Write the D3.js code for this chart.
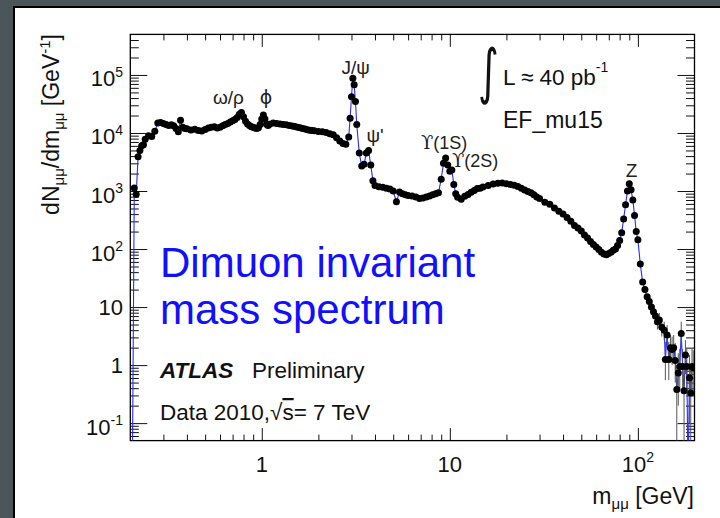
<!DOCTYPE html>
<html>
<head>
<meta charset="utf-8">
<script src="https://cdn.jsdelivr.net/npm/d3@7"></script>
<style>
  html, body { margin: 0; padding: 0; background: #4b565b; }
  svg { display: block; font-family: "Liberation Sans", Arial, sans-serif; }
</style>
</head>
<body>
<div id="chart"></div>
<script>
// Dimuon invariant mass spectrum
const mass = [0.205, 0.21, 0.215, 0.22, 0.225, 0.23, 0.235, 0.24, 0.25, 0.26, 0.27, 0.28, 0.29, 0.30, 0.31, 0.32, 0.33, 0.34, 0.35, 0.36,
  0.37, 0.38, 0.39, 0.40, 0.42, 0.44, 0.46, 0.48, 0.50, 0.52, 0.54, 0.56, 0.58, 0.60, 0.62, 0.64, 0.66, 0.68, 0.70, 0.72,
  0.74, 0.76, 0.78, 0.80, 0.82, 0.84, 0.86, 0.88, 0.90, 0.92, 0.94, 0.96, 0.98, 1.00, 1.02, 1.04, 1.06, 1.08, 1.10, 1.15,
  1.20, 1.25, 1.30, 1.35, 1.40, 1.45, 1.50, 1.55, 1.60, 1.65, 1.70, 1.75, 1.80, 1.85, 1.90, 2.00, 2.10, 2.20, 2.30, 2.40,
  2.50, 2.60, 2.70, 2.80, 2.90, 2.95, 3.00, 3.05, 3.10, 3.15, 3.20, 3.30, 3.40, 3.50, 3.60, 3.70, 3.80, 3.90, 4.0, 4.2,
  4.4, 4.6, 4.8, 5.0, 5.2, 5.4, 5.6, 5.8, 6.0, 6.3, 6.6, 6.9, 7.2, 7.5, 7.8, 8.1, 8.4, 8.7, 9.0, 9.25,
  9.5, 9.75, 10.0, 10.25, 10.5, 10.75, 11.0, 11.5, 12, 12.5, 13, 13.5, 14, 14.5, 15, 16, 17, 18, 19, 20,
  21, 22, 23, 24, 25, 26, 27, 28, 29, 30, 32, 34, 36, 38, 40, 42, 44, 46, 48, 50,
  52, 54, 56, 58, 60, 62, 64, 66, 68, 70, 72, 74, 76, 78, 80, 82, 84, 86, 88, 90,
  92, 94, 96, 98, 100, 103, 106, 109, 112, 115, 118, 121, 124, 127, 130, 134, 138, 140, 143, 146,
  149, 152, 155, 158, 161, 164, 167, 170, 173, 176, 179, 182, 185, 188, 191, 194, 197];

const dNdm = [0.01, 1130, 880, 3900, 5000, 6000, 6300, 7800, 9000, 8700, 10700, 14800, 15200, 14500, 14000, 13500, 13800, 13300, 12000, 10500,
  16500, 12500, 12000, 11800, 11300, 11600, 11000, 10800, 11500, 12200, 12500, 12800, 12200, 12600, 13300, 14000, 14600, 15500, 16300, 17000,
  18500, 21000, 22500, 19000, 16000, 14300, 13500, 12800, 12500, 12200, 12000, 12300, 14000, 17500, 20500, 17500, 14200, 13500, 14200, 14800,
  14500, 14300, 14000, 13800, 13400, 13200, 12900, 12600, 12300, 12000, 11700, 11400, 11200, 11000, 10900, 10600, 10500, 10200, 9700, 9300,
  8300, 7300, 6600, 6400, 8500, 18000, 42000, 88000, 68000, 35000, 14000, 4500, 2700, 2900, 4500, 5000, 2800, 1500, 1250, 1180,
  1160, 1120, 1080, 1000, 650, 960, 900, 860, 840, 820, 790, 740, 760, 790, 820, 860, 900, 930, 1600, 3000,
  3700, 2800, 2200, 2300, 1300, 900, 780, 720, 810, 870, 950, 1020, 1100, 1120, 1170, 1250, 1320, 1360, 1380, 1340,
  1300, 1260, 1200, 1120, 1040, 980, 930, 860, 790, 740, 640, 590, 510, 450, 400, 350, 300, 255, 230, 205,
  175, 155, 135, 120, 108, 98, 88, 82, 80, 84, 88, 95, 100, 115, 140, 190, 330, 580, 1000, 1330,
  1050, 700, 380, 200, 145, 55, 27, 20, 15, 12.5, 10, 8.3, 7, 5.6, 6, 4.5, 4.0, 1.25, 3.3, 1.25,
  2.0, 1.85, 2.0, 1.2, 0.38, 0.73, 0.95, 3.5, 0.95, 0.36, 1.5, 0.95, 0.01, 0.6, 0.33, 0.95, 0.9];

// visible error bars in the high-mass tail
const errMass = [121, 124, 127, 130, 134, 138, 140, 143, 146, 149, 152, 155, 158, 161, 164, 167, 170, 173, 176, 179, 182, 188, 191, 194, 197];
const errLow = [6.4, 5.3, 4.1, 4.4, 3.1, 2.7, 0.55, 2.1, 0.55, 1.1, 1.0, 1.1, 0.5, 0.03, 0.2, 0.35, 2.1, 0.35, 0.02, 0.7, 0.35, 0.1, 0.02, 0.35, 0.3];
const errHigh = [10.6, 9.1, 7.4, 7.9, 6.2, 5.6, 2.5, 4.9, 2.5, 3.3, 3.1, 3.3, 2.4, 1.0, 1.6, 1.9, 5.6, 1.9, 0.95, 2.7, 1.9, 1.5, 0.9, 1.9, 1.8];

const xTickValues = [1, 10, 100];
const xTickLabels = [["1", ""], ["10", ""], ["10", "2"]];
const yTickValues = [0.1, 1, 10, 100, 1e3, 1e4, 1e5];
const yTickLabels = [["10", "-1"], ["1", ""], ["10", ""], ["10", "2"], ["10", "3"], ["10", "4"], ["10", "5"]];
const peakLabels = ["ω/ρ", "ϕ", "J/ψ", "ψ'", "(1S)", "(2S)", "Z"];

const W = 720, H = 518;
const plotL = 130.3, plotR = 694.5, plotT = 34.4, plotB = 440.6;

const svg = d3.select("#chart").append("svg").attr("width", W).attr("height", H);

// slide background + white panel
svg.append("rect").attr("width", W).attr("height", H).attr("fill", "#4b565b");
svg.append("rect").attr("x", 13).attr("y", 6).attr("width", W).attr("height", H).attr("fill", "#000");
svg.append("rect").attr("x", 15).attr("y", 8).attr("width", W).attr("height", H).attr("fill", "#fff");

const x = d3.scaleLog().domain([0.2, 200]).range([plotL, plotR]);
const y = d3.scaleLog().domain([0.05, 5e5]).range([plotB, plotT]);

function minorTicks(lo, hi) {
  const out = [];
  for (let e = -3; e <= 6; e++) {
    for (let k = 2; k <= 9; k++) {
      const v = k * Math.pow(10, e);
      if (v > lo * 1.0001 && v < hi * 0.9999) out.push(v);
    }
  }
  return out;
}

// axes: ROOT style, ticks inside on all four sides
function drawAxis(axisFn, scale, values, size, transform) {
  svg.append("g")
    .attr("transform", transform)
    .call(axisFn(scale).tickValues(values).tickSize(size).tickFormat(""))
    .call(g => g.select(".domain").remove())
    .call(g => g.selectAll("line").attr("stroke", "#111").attr("stroke-width", 1));
}
const xMinor = minorTicks(0.2, 200), yMinor = minorTicks(0.05, 5e5);
drawAxis(d3.axisBottom, x, xTickValues, -12.5, `translate(0,${plotB})`);
drawAxis(d3.axisBottom, x, xMinor, -6, `translate(0,${plotB})`);
drawAxis(d3.axisTop, x, xTickValues, -12.5, `translate(0,${plotT})`);
drawAxis(d3.axisTop, x, xMinor, -6, `translate(0,${plotT})`);
drawAxis(d3.axisLeft, y, yTickValues, -17, `translate(${plotL},0)`);
drawAxis(d3.axisLeft, y, yMinor, -8.5, `translate(${plotL},0)`);
drawAxis(d3.axisRight, y, yTickValues, -17, `translate(${plotR},0)`);
drawAxis(d3.axisRight, y, yMinor, -8.5, `translate(${plotR},0)`);

svg.append("rect").attr("x", plotL).attr("y", plotT).attr("width", plotR - plotL).attr("height", plotB - plotT)
  .attr("fill", "none").attr("stroke", "#000").attr("stroke-width", 1.3);

// tick labels
const tickFont = 22, supFont = 14;
xTickValues.forEach((v, i) => {
  const t = svg.append("text").attr("x", x(v)).attr("y", 472).attr("text-anchor", "middle")
    .attr("font-size", tickFont).attr("fill", "#111");
  t.append("tspan").text(xTickLabels[i][0]);
  if (xTickLabels[i][1]) t.append("tspan").attr("dy", -10).attr("font-size", supFont).text(xTickLabels[i][1]);
});
yTickValues.forEach((v, i) => {
  const hasExp = yTickLabels[i][1] !== "";
  const t = svg.append("text").attr("x", 123).attr("y", y(v) + (hasExp ? 11.5 : 8)).attr("text-anchor", "end")
    .attr("font-size", tickFont).attr("fill", "#111");
  t.append("tspan").text(yTickLabels[i][0]);
  if (hasExp) t.append("tspan").attr("dy", -9.5).attr("font-size", supFont).text(yTickLabels[i][1]);
});

// axis titles
const yt = svg.append("text").attr("transform", "translate(58.5,34) rotate(-90)").attr("text-anchor", "end")
  .attr("font-size", 23).attr("fill", "#111");
yt.append("tspan").text("dN");
yt.append("tspan").attr("font-size", 15).attr("dy", 5).text("μμ");
yt.append("tspan").attr("dy", -5).text("/dm");
yt.append("tspan").attr("font-size", 15).attr("dy", 5).text("μμ");
yt.append("tspan").attr("dy", -5).text(" [GeV");
yt.append("tspan").attr("font-size", 15).attr("dy", -9).text("-1");
yt.append("tspan").attr("dy", 9).text("]");

const xt = svg.append("text").attr("x", 694).attr("y", 504).attr("text-anchor", "end")
  .attr("font-size", 23).attr("fill", "#111");
xt.append("tspan").text("m");
xt.append("tspan").attr("font-size", 15).attr("dy", 5).text("μμ");
xt.append("tspan").attr("dy", -5).text(" [GeV]");

// data
svg.append("clipPath").attr("id", "frame").append("rect")
  .attr("x", plotL).attr("y", plotT).attr("width", plotR - plotL).attr("height", plotB - plotT);
const plot = svg.append("g").attr("clip-path", "url(#frame)");
const points = mass.map((m, i) => ({ m: m, v: dNdm[i] }));

plot.append("path").datum(points)
  .attr("fill", "none").attr("stroke", "#2a2aff").attr("stroke-width", 1.1)
  .attr("d", d3.line().x(d => x(d.m)).y(d => y(d.v)));

plot.selectAll(".err").data(errMass).join("line").attr("class", "err")
  .attr("x1", d => x(d)).attr("x2", d => x(d))
  .attr("y1", (d, i) => y(errLow[i])).attr("y2", (d, i) => y(errHigh[i]))
  .attr("stroke", "#555").attr("stroke-width", 1);

plot.selectAll(".pt").data(points.filter(d => d.v >= 0.05)).join("circle").attr("class", "pt")
  .attr("cx", d => x(d.m)).attr("cy", d => y(d.v)).attr("r", 3.5).attr("fill", "#000");

// resonance labels
const ann = { "font-size": 19, fill: "#222" };
function label(txt, px, py, anchor) {
  const t = svg.append("text").attr("x", px).attr("y", py).attr("text-anchor", anchor || "start");
  Object.entries(ann).forEach(([k, v]) => t.attr(k, v));
  return t.text(txt);
}
label(peakLabels[0], 213, 104);
label(peakLabels[1], 266, 104, "middle").attr("font-family", "DejaVu Sans");
label(peakLabels[2], 341.5, 74);
label(peakLabels[3], 366.5, 142);
const u1 = label("", 421, 149).attr("font-size", 18);
u1.append("tspan").attr("font-family", "DejaVu Serif").text("ϒ");
u1.append("tspan").text(peakLabels[4]);
const u2 = label("", 452, 167).attr("font-size", 18);
u2.append("tspan").attr("font-family", "DejaVu Serif").text("ϒ");
u2.append("tspan").text(peakLabels[5]);
label(peakLabels[6], 631.5, 176.5, "middle");

// luminosity + trigger
svg.append("text").attr("x", 478).attr("y", 92).attr("font-size", 40).attr("font-family", "DejaVu Sans")
  .attr("fill", "#111").attr("transform", "translate(0,-46) scale(1,1.5)").text("∫");
const lum = svg.append("text").attr("x", 503).attr("y", 84.5).attr("font-size", 22.5).attr("fill", "#111");
lum.append("tspan").text("L ≈ 40 pb");
lum.append("tspan").attr("font-size", 14).attr("dy", -13).text("-1");
svg.append("text").attr("x", 503).attr("y", 127.5).attr("font-size", 23).attr("fill", "#111").text("EF_mu15");

// big blue title
svg.append("text").attr("x", 160).attr("y", 277).attr("font-size", 42).attr("fill", "#1010ff").text("Dimuon invariant");
svg.append("text").attr("x", 160).attr("y", 324).attr("font-size", 42).attr("fill", "#1010ff").text("mass spectrum");

// ATLAS labels
svg.append("text").attr("x", 160).attr("y", 378).attr("font-size", 22.5).attr("font-weight", "bold")
  .attr("font-style", "italic").attr("fill", "#111").text("ATLAS");
svg.append("text").attr("x", 252).attr("y", 378).attr("font-size", 22.5).attr("fill", "#111").text("Preliminary");
const dt = svg.append("text").attr("x", 160).attr("y", 420).attr("font-size", 22.5).attr("fill", "#111");
dt.append("tspan").text("Data 2010,√");
dt.append("tspan").attr("text-decoration", "overline").text("s");
dt.append("tspan").text("= 7 TeV");
</script>
</body>
</html>
